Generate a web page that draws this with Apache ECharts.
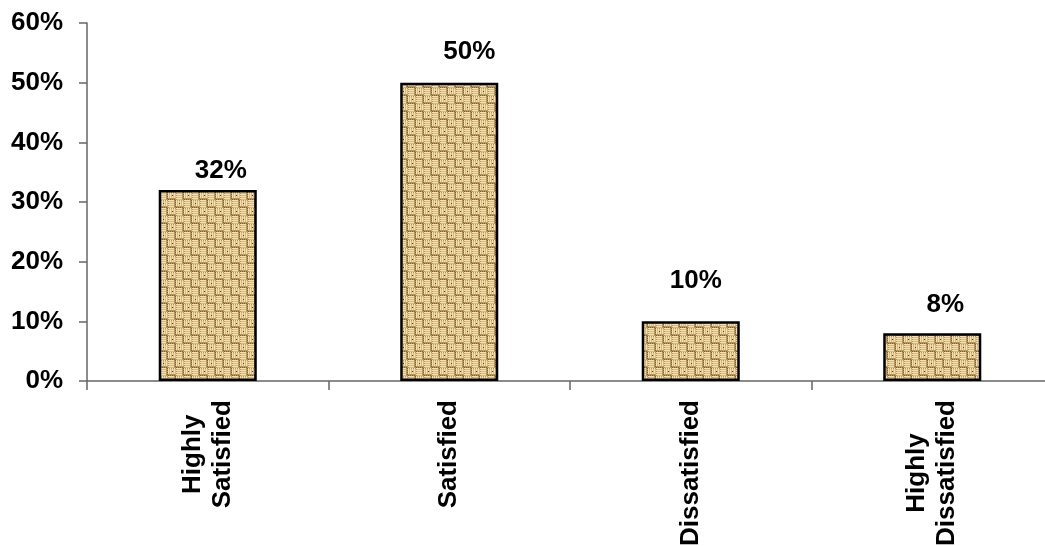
<!DOCTYPE html>
<html>
<head>
<meta charset="utf-8">
<script src="https://cdn.jsdelivr.net/npm/echarts@6/dist/echarts.min.js"></script>
<style>
  html, body { margin: 0; padding: 0; background: #fff; }
  #chart { width: 1045px; height: 546px; }
</style>
</head>
<body>
<div id="chart"></div>
<script>
  // data
  var categories = ['Highly\nSatisfied', 'Satisfied', 'Dissatisfied', 'Highly\nDissatisfied'];
  var values = [32, 50, 10, 8];
  var yTicks = [0, 10, 20, 30, 40, 50, 60];

  // hand-placed label nudges (the original labels are not evenly placed)
  var labelNudge = [[13, -6], [20, -18], [5, -28], [13, -15]];

  // burlap-ish weave texture for the bars
  function makeBurlap() {
    var c = document.createElement('canvas');
    c.width = 16; c.height = 16;
    var g = c.getContext('2d');
    g.fillStyle = '#b8955a';
    g.fillRect(0, 0, 16, 16);
    for (var by = 0; by < 2; by++) {
      for (var bx = 0; bx < 2; bx++) {
        var ox = bx * 8, oy = by * 8;
        var horiz = (bx + by) % 2 === 0;
        for (var k = 0; k < 4; k++) {
          // light thread
          g.fillStyle = '#f2e1b0';
          if (horiz) g.fillRect(ox, oy + k * 2, 6, 1);
          else g.fillRect(ox + k * 2, oy, 1, 6);
          // mid thread
          g.fillStyle = '#d6ba80';
          if (horiz) g.fillRect(ox + 1, oy + k * 2 + 1, 5, 1);
          else g.fillRect(ox + k * 2 + 1, oy + 1, 1, 5);
          // shadow at thread end
          g.fillStyle = '#7f6032';
          if (horiz) g.fillRect(ox + 7, oy + k * 2, 1, 1);
          else g.fillRect(ox + k * 2, oy + 7, 1, 1);
        }
      }
    }
    g.fillStyle = '#5a4020';
    g.fillRect(3, 11, 1, 1);
    g.fillRect(12, 3, 1, 1);
    return c;
  }

  var myChart = echarts.init(document.getElementById('chart'));
  var font = 'Liberation Sans, Arial, sans-serif';

  var options = {
    animation: false,
    grid: {
      left: 87,
      top: 23,
      bottom: 165,
      width: 966,
      outerBoundsMode: 'none'
    },
    xAxis: {
      type: 'category',
      data: categories,
      axisLine: { lineStyle: { color: '#666', width: 1.5 } },
      axisTick: { show: true, length: 9, lineStyle: { color: '#666', width: 1.5 } },
      axisLabel: {
        interval: 0,
        rotate: 90,
        margin: 19,
        formatter: function (v) {
          return v.split('\n').map(function (s) { return '{c|' + s + '}'; }).join('\n');
        },
        rich: {
          c: {
            align: 'center',
            fontFamily: font,
            fontWeight: 'bold',
            fontSize: 26,
            lineHeight: 30,
            color: '#000'
          }
        }
      },
      splitLine: { show: false }
    },
    yAxis: {
      type: 'value',
      min: yTicks[0],
      max: yTicks[yTicks.length - 1],
      interval: 10,
      axisLine: { show: true, lineStyle: { color: '#666', width: 1.5 } },
      axisTick: { show: true, length: 8, lineStyle: { color: '#666', width: 1.5 } },
      axisLabel: {
        margin: 24,
        formatter: '{value}%',
        fontFamily: font,
        fontWeight: 'bold',
        fontSize: 26,
        color: '#000'
      },
      splitLine: { show: false }
    },
    series: [
      {
        type: 'bar',
        barWidth: '40.6%',
        data: values.map(function (v, i) {
          return {
            value: v,
            label: { offset: labelNudge[i] }
          };
        }),
        itemStyle: {
          color: { image: makeBurlap(), repeat: 'repeat' },
          borderColor: '#000',
          borderWidth: 2.5
        },
        label: {
          show: true,
          position: 'top',
          distance: 0,
          formatter: '{c}%',
          fontFamily: font,
          fontWeight: 'bold',
          fontSize: 26,
          color: '#000'
        }
      }
    ]
  };

  myChart.setOption(options);
  window.addEventListener('resize', myChart.resize);
</script>
</body>
</html>
